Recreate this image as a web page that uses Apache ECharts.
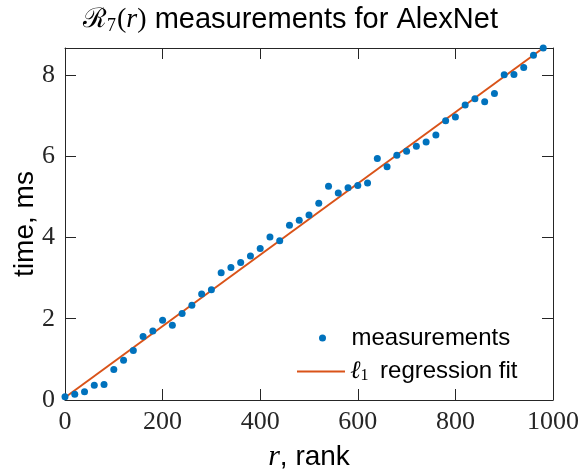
<!DOCTYPE html>
<html>
<head>
<meta charset="utf-8">
<script src="https://cdn.jsdelivr.net/npm/echarts@6/dist/echarts.min.js"></script>
<style>
  body { margin: 0; background: #fff; }
  #main { width: 581px; height: 469px; }
</style>
</head>
<body>
<div id="main"></div>
<script>
// rank r sampled every 20
let rank = [];
for (let r = 0; r <= 980; r += 20) rank.push(r);

let timeMs = [
  0.08, 0.14, 0.20, 0.36, 0.38, 0.75, 0.98, 1.22, 1.56, 1.70,
  1.96, 1.84, 2.13, 2.33, 2.61, 2.71, 3.13, 3.26, 3.38, 3.54,
  3.73, 4.01, 3.92, 4.30, 4.42, 4.55, 4.84, 5.26, 5.09, 5.22,
  5.28, 5.34, 5.94, 5.74, 6.02, 6.12, 6.24, 6.35, 6.52, 6.87,
  6.96, 7.26, 7.41, 7.34, 7.54, 8.00, 8.01, 8.18, 8.48, 8.66
];

// l1 regression fit end points
let fitX = [0, 980];
let fitY = [0.06, 8.66];

let xTicks = [0, 200, 400, 600, 800, 1000];
let yTicks = [0, 2, 4, 6, 8];

let axisColor = '#262626';
let serif = 'Liberation Serif';
let sans = 'Liberation Sans';

let chart = echarts.init(document.getElementById('main'));

function tickAxis(extra) {
  return Object.assign({
    type: 'value',
    axisLine: { show: true, onZero: false, lineStyle: { color: axisColor, width: 1 } },
    axisTick: { show: true, inside: true, length: 11, lineStyle: { color: axisColor, width: 1 } },
    splitLine: { show: false }
  }, extra);
}

chart.setOption({
  animation: false,
  title: {
    text: '{c|ℛ}{s|7}{m|(}{i|r}{m|)} measurements for AlexNet',
    left: 'center',
    top: 0,
    textStyle: {
      fontFamily: sans,
      fontSize: 29,
      fontWeight: 'normal',
      color: '#000',
      rich: {
        c: { fontFamily: 'DejaVu Serif', fontSize: 27, color: '#000' },
        s: { fontFamily: serif, fontSize: 18, color: '#000', padding: [12, 1, 0, 0] },
        m: { fontFamily: serif, fontSize: 28, color: '#000' },
        i: { fontFamily: serif, fontStyle: 'italic', fontSize: 28, color: '#000' }
      }
    }
  },
  grid: { left: 65, right: 28, top: 48, bottom: 69, containLabel: false, outerBoundsMode: 'none' },
  legend: [
    {
      data: [{ name: 'measurements', icon: 'circle' }],
      left: 319, top: 326, padding: 0,
      itemWidth: 48, itemHeight: 7,
      textStyle: { fontFamily: sans, fontSize: 24, color: '#000' }
    },
    {
      data: [{ name: 'l1 regression fit', icon: 'rect' }],
      left: 297, top: 359, padding: 0,
      itemWidth: 48, itemHeight: 2,
      formatter: function () { return '{i|ℓ}{s|1} regression fit'; },
      textStyle: {
        fontFamily: sans, fontSize: 24, color: '#000',
        rich: {
          i: { fontFamily: serif, fontStyle: 'italic', fontSize: 25, color: '#000' },
          s: { fontFamily: serif, fontSize: 16, color: '#000', padding: [9, 5, 0, 0] }
        }
      }
    }
  ],
  xAxis: [
    tickAxis({
      position: 'bottom',
      min: xTicks[0], max: xTicks[xTicks.length - 1], interval: 200,
      name: '{i|r}, rank',
      nameLocation: 'middle',
      nameGap: 42,
      nameMoveOverlap: false,
      nameTextStyle: {
        fontFamily: sans, fontSize: 28, color: '#000',
        rich: { i: { fontFamily: serif, fontStyle: 'italic', fontSize: 30, color: '#000' } }
      },
      axisLabel: {
        fontFamily: serif, fontSize: 26, color: '#262626', margin: 9,
        formatter: function (v) { return String(v); }
      }
    }),
    tickAxis({
      position: 'top',
      min: xTicks[0], max: xTicks[xTicks.length - 1], interval: 200,
      axisLabel: { show: false }
    })
  ],
  yAxis: [
    tickAxis({
      position: 'left',
      min: yTicks[0], max: 8.66, interval: 2,
      name: 'time, ms',
      nameLocation: 'middle',
      nameGap: 26,
      nameMoveOverlap: false,
      nameTextStyle: { fontFamily: sans, fontSize: 28, color: '#000' },
      axisLabel: {
        fontFamily: serif, fontSize: 26, color: '#262626', margin: 10,
        showMaxLabel: false,
        formatter: function (v) { return yTicks.indexOf(v) >= 0 ? String(v) : ''; }
      }
    }),
    tickAxis({
      position: 'right',
      min: yTicks[0], max: 8.66, interval: 2,
      axisLabel: { show: false }
    })
  ],
  series: [
    {
      name: 'measurements',
      type: 'scatter',
      symbol: 'circle',
      symbolSize: 7,
      itemStyle: { color: '#0072BD', opacity: 1 },
      data: rank.map(function (r, i) { return [r, timeMs[i]]; }),
      z: 3
    },
    {
      name: 'l1 regression fit',
      type: 'line',
      symbol: 'none',
      lineStyle: { color: '#D95319', width: 2 },
      itemStyle: { color: '#D95319' },
      data: fitX.map(function (x, i) { return [x, fitY[i]]; }),
      z: 2
    }
  ]
});
</script>
</body>
</html>
